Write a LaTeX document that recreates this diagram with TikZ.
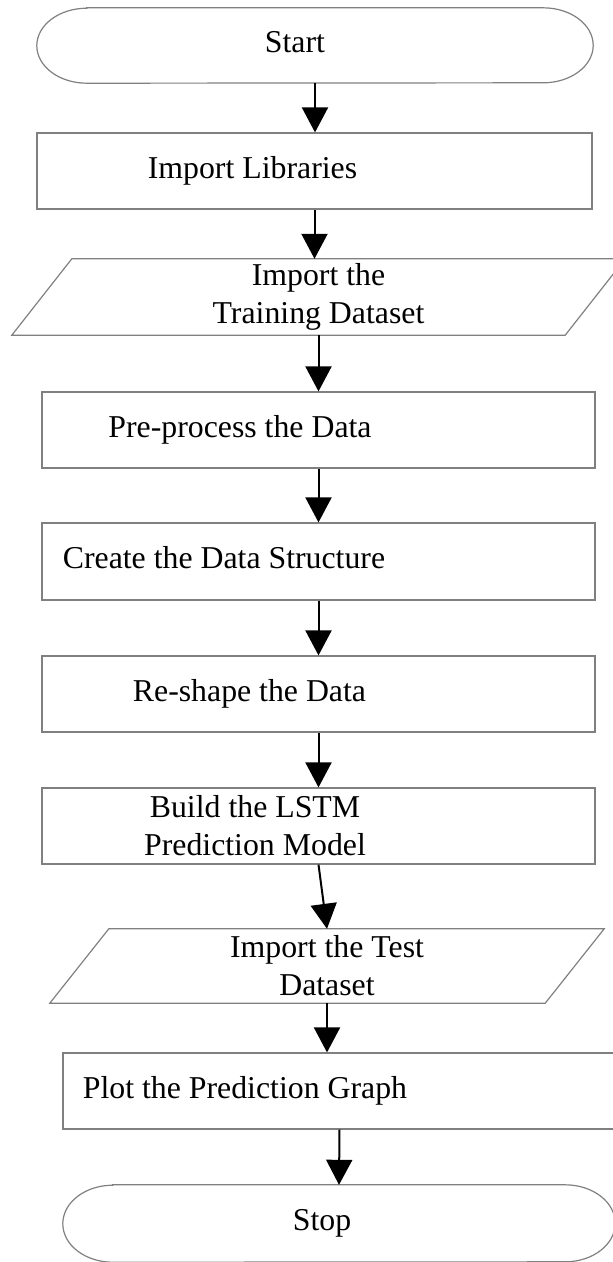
\documentclass[tikz,border=0pt]{standalone}
\usepackage{fontspec}
\setmainfont{Liberation Serif}
\usetikzlibrary{arrows.meta}
\definecolor{linegray}{RGB}{128,128,128}
\newcommand\flowfont{\fontsize{31.8}{38}\selectfont}
\tikzset{
  stepbox/.style={draw=linegray,line width=1.2pt,minimum width=553pt,minimum height=76pt,inner sep=0pt},
  iobox/.style={inner sep=0pt,align=center},
  outline/.style={draw=linegray,line width=1.2pt},
  flow/.style={line width=2pt,-{Triangle[length=25pt,width=26pt]}},
  every label/.style={inner sep=0pt,text height=21.7pt,text depth=6.9pt},
}
\begin{document}
\begin{tikzpicture}[x=1pt,y=1pt,font=\flowfont]
  \useasboundingbox (0,0) rectangle (613,-1262);
  \clip (0,0) rectangle (613,-1262);

  \node[inner sep=0pt,minimum width=556pt,minimum height=75pt,label={[xshift=-20]center:Start}] (start) at (315,-45.5) {};
  \node[stepbox,minimum width=555pt,label={[xshift=-62]center:Import Libraries}] (lib) at (314.5,-171) {};
  \node[iobox,minimum width=553pt,minimum height=76pt] (train) at (318.5,-297) {Import the\\Training Dataset};
  \node[stepbox,label={[xshift=-78.5]center:Pre-process the Data}] (pre) at (318.5,-430) {};
  \node[stepbox,minimum height=77pt,label={[xshift=-94.5]center:Create the Data Structure}] (create) at (318.5,-561.5) {};
  \node[stepbox,label={[xshift=-69]center:Re-shape the Data}] (reshape) at (318.5,-694) {};
  \node[stepbox,label={[xshift=-63.5,align=center,text height=,text depth=]center:Build the LSTM\\Prediction Model}] (build) at (318.5,-826) {};
  \node[iobox,minimum width=495pt,minimum height=74pt] (test) at (327,-966) {Import the Test\\Dataset};
  \node[stepbox,label={[xshift=-94.5]center:Plot the Prediction Graph}] (plot) at (339.5,-1091) {};
  \node[inner sep=0pt,minimum width=552pt,minimum height=77pt,label={[xshift=-17]center:Stop}] (stop) at (339,-1223.5) {};

  % terminals and data shapes
  \draw[outline] ([xshift=50]start.north west) -- ([xshift=-50]start.north east)
    arc[start angle=90,end angle=-90,x radius=50,y radius=37.5] -- ([xshift=50]start.south west)
    arc[start angle=270,end angle=90,x radius=50,y radius=37.5] -- cycle;
  \draw[outline] ([xshift=50]stop.north west) -- ([xshift=-50]stop.north east)
    arc[start angle=90,end angle=-90,x radius=50,y radius=38.5] -- ([xshift=50]stop.south west)
    arc[start angle=270,end angle=90,x radius=50,y radius=38.5] -- cycle;
  \draw[outline] ([xshift=30]train.north west) -- ([xshift=30]train.north east)
    -- ([xshift=-30]train.south east) -- ([xshift=-30]train.south west) -- cycle;
  \draw[outline] ([xshift=29.5]test.north west) -- ([xshift=29.5]test.north east)
    -- ([xshift=-29.5]test.south east) -- ([xshift=-29.5]test.south west) -- cycle;

  % arrows
  \draw[flow] (start.south) -- (start.south |- lib.north);
  \draw[flow] (lib.south) -- (lib.south |- train.north);
  \draw[flow] (train.south) -- (pre.north);
  \draw[flow] (pre.south) -- (create.north);
  \draw[flow] (create.south) -- (reshape.north);
  \draw[flow] (reshape.south) -- (build.north);
  \draw[flow] (build.south) -- (test.north);
  \draw[flow] (test.south) -- (test.south |- plot.north);
  \draw[flow] (plot.south) -- (stop.north);
\end{tikzpicture}
\end{document}
